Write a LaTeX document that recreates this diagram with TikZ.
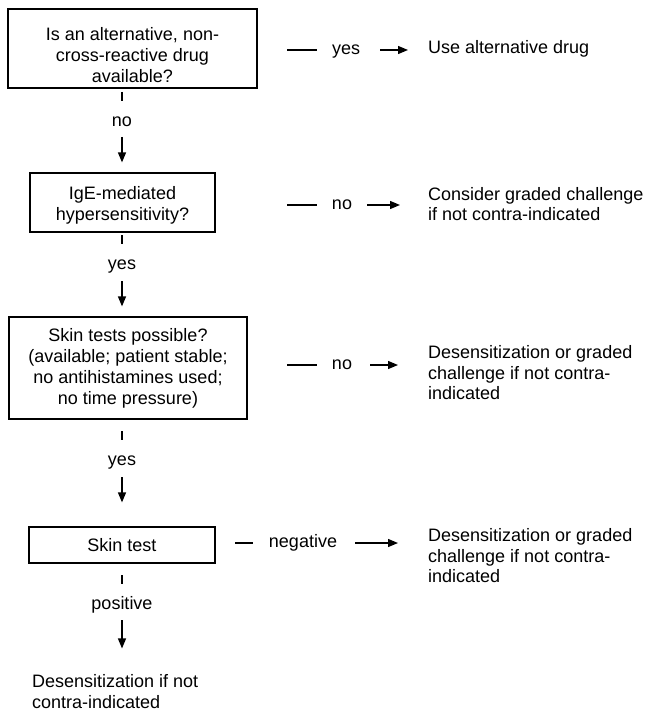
\documentclass[tikz,border=0pt]{standalone}
\usepackage{fontspec}
\setmainfont{Liberation Sans}
\usetikzlibrary{arrows.meta, positioning, calc}
\tikzset{
    qbox/.style={rectangle, draw=black, line width=1.2pt, align=center, inner sep=0pt, font=\fontsize{18}{21}\selectfont},
    lbl/.style={inner sep=0pt, text height=9.4pt, text depth=0pt, font=\fontsize{18}{21}\selectfont},
    outtxt/.style={align=left, inner sep=0pt, font=\fontsize{18}{20.5}\selectfont},
    stub/.style={line width=1.3pt},
    flow/.style={-{Triangle[length=10pt,width=8pt]}, line width=1.3pt}
}

\begin{document}
\begin{tikzpicture}[x=1pt, y=-1pt]
    \useasboundingbox (0,0) rectangle (646,711);

    % Decision boxes down the left
    \node[qbox, minimum width=249pt, minimum height=79pt] (alt) at (132.5,48.5) {\rule{0pt}{27pt}Is an alternative, non-\\cross-reactive drug\\available?};
    \node[qbox, minimum width=185pt, minimum height=59pt] (ige) at (122.5,202.5) {\rule{0pt}{19pt}IgE-mediated\\hypersensitivity?};
    \node[qbox, minimum width=238pt, minimum height=102pt] (skp) at (128,368) {Skin tests possible?\\(available; patient stable;\\no antihistamines used;\\no time pressure)};
    \node[qbox, minimum width=186pt, minimum height=36pt] (skt) at (122,545) {Skin test};
    \node[outtxt, anchor=west] (fin) at (32,691.5) {Desensitization if not\\contra-indicated};

    % Labels on the downward path
    \node[lbl] (no1) at (122,122) {no};
    \node[lbl] (yes2) at (122,265) {yes};
    \node[lbl] (yes3) at (122,461) {yes};
    \node[lbl] (pos4) at (122,605) {positive};

    \draw[stub] ([yshift=30pt]no1.center) -- ([yshift=21pt]no1.center);
    \draw[flow, shorten >=10pt] ([yshift=-15pt]no1.center) -- (ige.north -| no1);
    \draw[stub] ([yshift=30pt]yes2.center) -- ([yshift=21pt]yes2.center);
    \draw[flow, shorten >=10pt] ([yshift=-16pt]yes2.center) -- (skp.north -| yes2);
    \draw[stub] ([yshift=30pt]yes3.center) -- ([yshift=21pt]yes3.center);
    \draw[flow, shorten >=24pt] ([yshift=-16pt]yes3.center) -- (skt.north -| yes3);
    \draw[stub] ([yshift=30pt]pos4.center) -- ([yshift=21pt]pos4.center);
    \draw[flow, shorten >=26pt] ([yshift=-15pt]pos4.center) -- (fin.north -| pos4);

    % Outcomes to the right
    \node[outtxt, anchor=west] (use) at (428,49) {Use alternative drug};
    \node[outtxt, anchor=west] (grd) at (428,204) {Consider graded challenge\\if not contra-indicated};
    \node[outtxt, anchor=west] (des3) at (428,373) {Desensitization or graded\\challenge if not contra-\\indicated};
    \node[outtxt, anchor=west] (des4) at (428,556) {Desensitization or graded\\challenge if not contra-\\indicated};

    \node[lbl] (yes1) at (346,50) {yes};
    \node[lbl] (no2) at (342,205) {no};
    \node[lbl] (no3) at (342,365) {no};
    \node[lbl] (neg4) at (303,543) {negative};

    \draw[stub] ([xshift=-15pt]yes1.west) -- ++(-30,0);
    \draw[flow, shorten <=20pt, shorten >=20pt] (yes1) -- (use.west |- yes1);
    \draw[stub] ([xshift=-15pt]no2.west) -- ++(-30,0);
    \draw[flow, shorten <=15pt, shorten >=28pt] (no2) -- (grd.west |- no2);
    \draw[stub] ([xshift=-15pt]no3.west) -- ++(-30,0);
    \draw[flow, shorten <=18pt, shorten >=30pt] (no3) -- (des3.west |- no3);
    \draw[stub] ([xshift=-16pt]neg4.west) -- ++(-18,0);
    \draw[flow, shorten <=18pt, shorten >=30pt] (neg4) -- (des4.west |- neg4);
\end{tikzpicture}
\end{document}
